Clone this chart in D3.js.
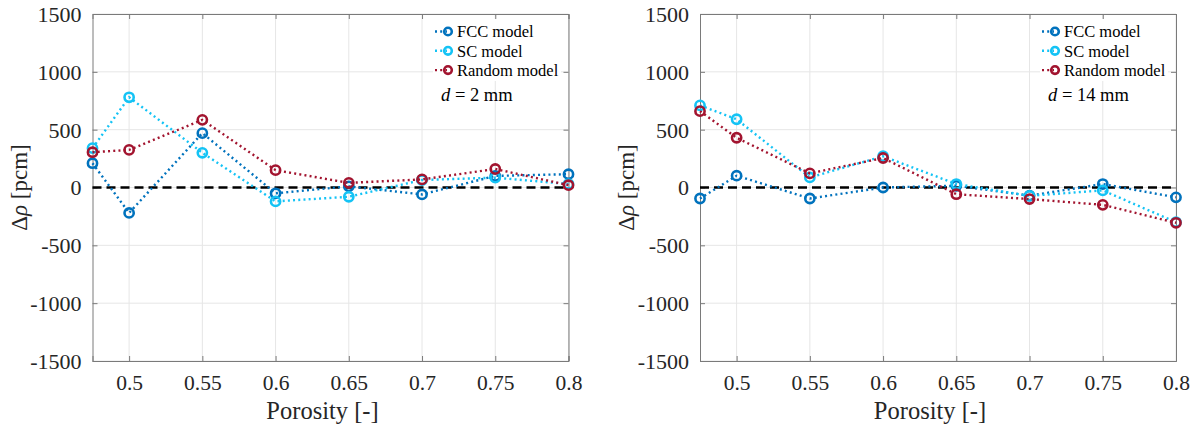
<!DOCTYPE html>
<html>
<head>
<meta charset="utf-8">
<script src="https://cdn.jsdelivr.net/npm/d3@7"></script>
<style>
  html, body { margin: 0; padding: 0; background: #fff; }
  svg { display: block; font-family: "Liberation Serif", "Times New Roman", serif; }
</style>
</head>
<body>
<svg id="chart" width="1200" height="428"></svg>
<script>
// Porosity values (x) shared by both panels
const porosity = [0.475, 0.5, 0.55, 0.6, 0.65, 0.7, 0.75, 0.8];

// Reactivity difference Δρ [pcm], d = 2 mm
const fcc2 = [210, -220, 470, -50, 10, -60, 100, 115];
const sc2 = [340, 780, 300, -120, -80, 65, 85, 30];
const rnd2 = [305, 325, 585, 150, 40, 70, 160, 20];

// Reactivity difference Δρ [pcm], d = 14 mm
const fcc14 = [-95, 102, -95, 0, 15, -70, 30, -85];
const sc14 = [710, 590, 87, 270, 30, -72, -25, -300];
const rnd14 = [660, 430, 122, 255, -58, -100, -150, -305];

const xTicks = [0.5, 0.55, 0.6, 0.65, 0.7, 0.75, 0.8];
const yTicks = [-1500, -1000, -500, 0, 500, 1000, 1500];
const seriesNames = ["FCC model", "SC model", "Random model"];
const seriesColors = ["#0072BD", "#14C3F5", "#A2142F"];

const panels = [
  { left: 92.5, right: 568.5, label: "2", data: [fcc2, sc2, rnd2], legendX: 433 },
  { left: 700, right: 1176, label: "14", data: [fcc14, sc14, rnd14], legendX: 1040 }
];

const svg = d3.select("#chart");
const plotTop = 14, plotBottom = 361;
const plainNumber = d => String(d);
const serifStack = "'Liberation Serif', 'Times New Roman', serif";

panels.forEach(p => {
  const x = d3.scaleLinear().domain([0.475, 0.8]).range([p.left, p.right]);
  const y = d3.scaleLinear().domain([-1500, 1500]).range([plotBottom, plotTop]);
  const g = svg.append("g");

  // grid
  g.append("g").selectAll("line").data(xTicks).join("line")
    .attr("x1", d => x(d)).attr("x2", d => x(d)).attr("y1", plotTop).attr("y2", plotBottom)
    .attr("stroke", "#e6e6e6").attr("stroke-width", 1);
  g.append("g").selectAll("line").data(yTicks).join("line")
    .attr("x1", p.left).attr("x2", p.right).attr("y1", d => y(d)).attr("y2", d => y(d))
    .attr("stroke", "#e6e6e6").attr("stroke-width", 1);

  // axes (ticks pointing inward)
  const ax = g.append("g").attr("transform", `translate(0,${plotBottom})`)
    .call(d3.axisBottom(x).tickValues(xTicks).tickSize(-5).tickPadding(14).tickFormat(plainNumber));
  const axTop = g.append("g").attr("transform", `translate(0,${plotTop})`)
    .call(d3.axisTop(x).tickValues(xTicks).tickSize(-5).tickFormat(""));
  const ay = g.append("g").attr("transform", `translate(${p.left},0)`)
    .call(d3.axisLeft(y).tickValues(yTicks).tickSize(-5).tickPadding(11).tickFormat(plainNumber));
  const ayR = g.append("g").attr("transform", `translate(${p.right},0)`)
    .call(d3.axisRight(y).tickValues(yTicks).tickSize(-5).tickFormat(""));
  [ax, axTop, ay, ayR].forEach(a => {
    a.attr("font-family", null);
    a.select(".domain").attr("stroke", "#7a7a7a").attr("stroke-width", 1);
    a.selectAll(".tick line").attr("stroke", "#7a7a7a");
    a.selectAll("text").attr("fill", "#262626").style("font-family", serifStack);
  });
  ax.selectAll(".tick text").attr("dy", "0.71em").style("font-size", "21.5px");
  ay.selectAll(".tick text").attr("dy", "0.34em").style("font-size", "22px");

  // zero reference line
  g.append("line").attr("x1", p.left).attr("x2", p.right)
    .attr("y1", y(0)).attr("y2", y(0))
    .attr("stroke", "#000").attr("stroke-width", 2.6).attr("stroke-dasharray", "9,5");

  // series
  const line = d3.line().x((d, i) => x(porosity[i])).y(d => y(d));
  p.data.forEach((vals, k) => {
    g.append("path").datum(vals).attr("d", line)
      .attr("fill", "none").attr("stroke", seriesColors[k])
      .attr("stroke-width", 2.4).attr("stroke-dasharray", "2,3.2");
    g.append("g").selectAll("circle").data(vals).join("circle")
      .attr("cx", (d, i) => x(porosity[i])).attr("cy", d => y(d)).attr("r", 4.6)
      .attr("fill", "none").attr("stroke", seriesColors[k]).attr("stroke-width", 2.6);
  });

  // legend
  const lg = g.append("g");
  lg.append("rect").attr("x", p.legendX).attr("y", 19).attr("width", 128).attr("height", 62)
    .attr("fill", "#fff");
  seriesNames.forEach((name, k) => {
    const ly = 31.5 + k * 19.3;
    const lx = p.legendX + 2;
    lg.append("line").attr("x1", lx).attr("x2", lx + 12).attr("y1", ly).attr("y2", ly)
      .attr("stroke", seriesColors[k]).attr("stroke-width", 2.4).attr("stroke-dasharray", "2,3.2");
    lg.append("circle").attr("cx", lx + 13).attr("cy", ly).attr("r", 3.8)
      .attr("fill", "none").attr("stroke", seriesColors[k]).attr("stroke-width", 2.6);
    lg.append("text").attr("x", lx + 22).attr("y", ly).attr("dy", "0.35em")
      .attr("fill", "#000").style("font-size", "16.5px").text(name);
  });

  // particle diameter annotation
  const t = g.append("text").attr("x", p.legendX + 8).attr("y", 101)
    .attr("fill", "#000").style("font-size", "18.5px");
  t.append("tspan").style("font-style", "italic").text("d");
  t.append("tspan").text(" = " + p.label + " mm");

  // axis titles
  g.append("text").attr("x", p.left + (p.right - p.left) / 2 - 8).attr("y", 419)
    .attr("text-anchor", "middle").attr("fill", "#262626").style("font-size", "24.5px")
    .text("Porosity [-]");
  const yl = g.append("text")
    .attr("transform", `translate(${p.left - 66},${(plotTop + plotBottom) / 2}) rotate(-90)`)
    .attr("text-anchor", "middle").attr("fill", "#262626").style("font-size", "23px");
  yl.append("tspan").text("Δ");
  yl.append("tspan").style("font-style", "italic").text("ρ");
  yl.append("tspan").text(" [pcm]");
});
</script>
</body>
</html>
